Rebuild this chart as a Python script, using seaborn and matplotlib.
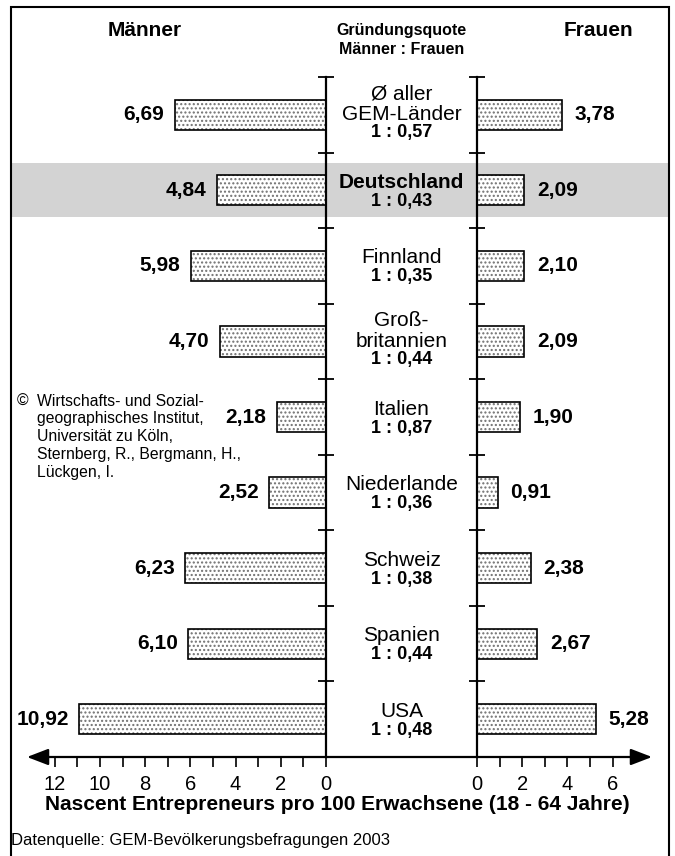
import matplotlib
matplotlib.use('Agg')
import matplotlib.pyplot as plt
import seaborn as sns
import numpy as np
import pandas as pd
from matplotlib.patches import Rectangle, FancyArrowPatch

# ---------------- data ----------------
countries = ["Ø aller\nGEM-Länder", "Deutschland", "Finnland", "Groß-\nbritannien",
             "Italien", "Niederlande", "Schweiz", "Spanien", "USA"]
maenner = [6.69, 4.84, 5.98, 4.70, 2.18, 2.52, 6.23, 6.10, 10.92]
frauen = [3.78, 2.09, 2.10, 2.09, 1.90, 0.91, 2.38, 2.67, 5.28]
quote = ["1 : 0,57", "1 : 0,43", "1 : 0,35", "1 : 0,44", "1 : 0,87",
         "1 : 0,36", "1 : 0,38", "1 : 0,44", "1 : 0,48"]
highlight = "Deutschland"
left_ticks = [0, 2, 4, 6, 8, 10, 12]
right_ticks = [0, 2, 4, 6]
copyright_lines = ["Wirtschafts- und Sozial-", "geographisches Institut,",
                   "Universität zu Köln,", "Sternberg, R., Bergmann, H.,",
                   "Lückgen, I."]

plt.rcParams['font.family'] = ['Liberation Sans', 'DejaVu Sans']

W, H = 675, 856
fig = plt.figure(figsize=(W / 100, H / 100), dpi=100)


def px(x0, y0, x1, y1):
    return [x0 / W, 1 - y1 / H, (x1 - x0) / W, (y1 - y0) / H]


def fx(x):
    return x / W


def fy(y):
    return 1 - y / H


df = pd.DataFrame({"Land": countries, "Männer": maenner, "Frauen": frauen})

# background axes (highlight band + centre labels)
bg = fig.add_axes(px(11, 77, 669, 757))
bg.set_xlim(0, 1)
bg.set_ylim(8.5, -0.5)
bg.axis('off')
hi = countries.index(highlight)
bg.axhspan(hi - 0.357, hi + 0.357, color='#d3d3d3', lw=0, zorder=0)

ax_l = fig.add_axes(px(27, 77, 326, 757))
ax_r = fig.add_axes(px(477, 77, 652, 757))

for ax, col in [(ax_l, "Männer"), (ax_r, "Frauen")]:
    ax.set_facecolor('none')
    sns.barplot(data=df, x=col, y="Land", orient='h', color='white', saturation=1,
                width=0.40, hatch='....', edgecolor='#707070', linewidth=0,
                errorbar=None, ax=ax)
    sns.barplot(data=df, x=col, y="Land", orient='h', color='black', fill=False,
                width=0.40, linewidth=1.2, errorbar=None, ax=ax)
    ax.set_ylim(8.5, -0.5)
    ax.set_xlabel('')
    ax.set_ylabel('')
    ax.set_yticks(np.arange(-0.5, 8.0, 1.0))
    ax.set_yticklabels([])
    ax.tick_params(axis='y', direction='inout', length=12, width=1.3)
    ax.tick_params(axis='x', which='both', direction='out', length=7, width=1.2,
                   labelsize=14.5, pad=6, color='black')
    for s in ax.spines.values():
        s.set_visible(False)

ax_l.set_xlim(13.23, 0)
ax_l.yaxis.tick_right()
ax_l.spines['right'].set_visible(True)
ax_l.spines['right'].set_linewidth(1.6)
ax_l.set_xticks(left_ticks)
ax_l.set_xticks(range(0, 13), minor=True)
ax_l.set_xticklabels([str(t) for t in left_ticks])
ax_l.tick_params(axis='y', left=False, right=True, labelright=False)

ax_r.set_xlim(0, 7.74)
ax_r.yaxis.tick_left()
ax_r.spines['left'].set_visible(True)
ax_r.spines['left'].set_linewidth(1.6)
ax_r.set_xticks(right_ticks)
ax_r.set_xticks(range(0, 7), minor=True)
ax_r.set_xticklabels([str(t) for t in right_ticks])


def fmt(v):
    return f"{v:.2f}".replace('.', ',')


for i, (m, f) in enumerate(zip(maenner, frauen)):
    ax_l.annotate(fmt(m), xy=(m, i), xytext=(-7.5, 0), textcoords='offset points',
                  ha='right', va='center', fontsize=15, fontweight='bold')
    ax_r.annotate(fmt(f), xy=(f, i), xytext=(9, 0), textcoords='offset points',
                  ha='left', va='center', fontsize=15, fontweight='bold')

# centre labels
cx = (401.5 - 11) / 658
for i, (name, q) in enumerate(zip(countries, quote)):
    lines = name.split('\n')
    if len(lines) == 1:
        offs = [-8]
        qoff = 11
    else:
        offs = [-21, 0]
        qoff = 18
    weight = 'bold' if name == highlight else 'normal'
    for ln, o in zip(lines, offs):
        bg.annotate(ln, xy=(cx, i), xycoords=('axes fraction', 'data'),
                    xytext=(0, -o * 0.72), textcoords='offset points',
                    ha='center', va='center', fontsize=15, fontweight=weight)
    bg.annotate(q, xy=(cx, i), xycoords=('axes fraction', 'data'),
                xytext=(0, -qoff * 0.72), textcoords='offset points',
                ha='center', va='center', fontsize=13, fontweight='bold')

# arrow axis
fig.add_artist(FancyArrowPatch((fx(27), fy(757)), (fx(652), fy(757)),
                               transform=fig.transFigure,
                               arrowstyle='<|-|>,head_length=1.3,head_width=0.5',
                               mutation_scale=10, lw=1.6, color='black',
                               shrinkA=0, shrinkB=0))

# headers
fig.text(fx(145), fy(31), "Männer", ha='center', va='center', fontsize=15, fontweight='bold')
fig.text(fx(598), fy(31), "Frauen", ha='center', va='center', fontsize=15, fontweight='bold')
fig.text(fx(401.5), fy(31), "Gründungsquote", ha='center', va='center', fontsize=11.5, fontweight='bold')
fig.text(fx(401.5), fy(49), "Männer : Frauen", ha='center', va='center', fontsize=11.5, fontweight='bold')

fig.text(fx(337), fy(804), "Nascent Entrepreneurs pro 100 Erwachsene (18 - 64 Jahre)",
         ha='center', va='center', fontsize=15, fontweight='bold')
fig.text(fx(11), fy(840), "Datenquelle: GEM-Bevölkerungsbefragungen 2003",
         ha='left', va='center', fontsize=12)

# copyright
fig.text(fx(17), fy(401), "©", ha='left', va='center', fontsize=11.3)
for k, ln in enumerate(copyright_lines):
    fig.text(fx(37), fy(401 + k * 17.8), ln, ha='left', va='center', fontsize=11.3)

# frame
fig.add_artist(Rectangle((fx(11), -0.05), 658 / W, fy(7) + 0.05,
                         transform=fig.transFigure, fill=False, lw=1.5, ec='black'))

fig.savefig('out.png', dpi=100)
